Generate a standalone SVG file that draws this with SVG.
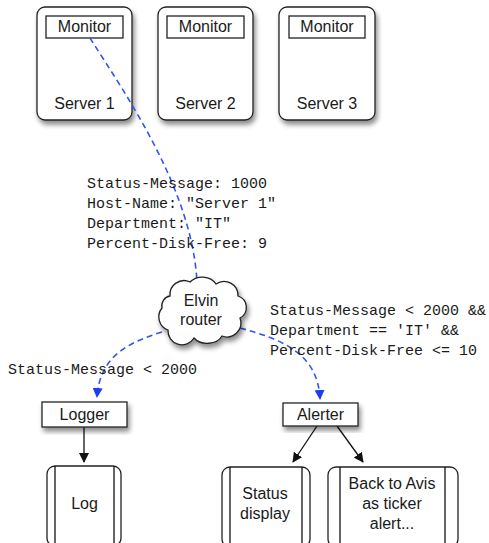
<svg xmlns="http://www.w3.org/2000/svg" width="489" height="543" viewBox="0 0 489 543">
<style>
.box{fill:#fff;stroke:#222;stroke-width:1.3}
.lbl{font-family:"Liberation Sans",Arial,sans-serif;font-size:16px;fill:#1a1a1a;text-anchor:middle}
.mono{font-family:"Liberation Mono","Courier New",monospace;font-size:15px;fill:#1a1a1a}
.dash{fill:none;stroke:#3355ee;stroke-width:1.6;stroke-dasharray:6 4}
.solid{fill:none;stroke:#111;stroke-width:1.3}
</style>
<defs>
<filter id="sh" x="-20%" y="-20%" width="150%" height="150%">
<feDropShadow dx="2" dy="4" stdDeviation="2.5" flood-color="#000" flood-opacity="0.45"/>
</filter>
<marker id="ab" viewBox="0 0 10 10" refX="9" refY="5" markerWidth="10" markerHeight="10" markerUnits="userSpaceOnUse" orient="auto">
<path d="M0,0 L10,5 L0,10 z" fill="#1d3df5"/>
</marker>
<marker id="ak" viewBox="0 0 10 10" refX="9" refY="5" markerWidth="10" markerHeight="10" markerUnits="userSpaceOnUse" orient="auto">
<path d="M0,0 L10,5 L0,10 z" fill="#111"/>
</marker>
</defs>

<g id="server1">
<rect class="box" x="37" y="7" width="95" height="113" rx="8" filter="url(#sh)"/>
<rect class="box" x="46" y="16" width="77" height="22"/>
<text class="lbl" x="84.5" y="32">Monitor</text>
<text class="lbl" x="84.5" y="109">Server 1</text>
</g>
<g id="server2">
<rect class="box" x="158" y="7" width="95" height="113" rx="8" filter="url(#sh)"/>
<rect class="box" x="167" y="16" width="77" height="22"/>
<text class="lbl" x="205.5" y="32">Monitor</text>
<text class="lbl" x="205.5" y="109">Server 2</text>
</g>
<g id="server3">
<rect class="box" x="279" y="7" width="96" height="113" rx="8" filter="url(#sh)"/>
<rect class="box" x="289" y="16" width="76" height="22"/>
<text class="lbl" x="327" y="32">Monitor</text>
<text class="lbl" x="327" y="109">Server 3</text>
</g>

<g id="connectors">
<path class="dash" d="M90,38 C128,98 192,190 197,282"/>
<path class="dash" d="M162,332 C130,342 100,355 97,397" marker-end="url(#ab)"/>
<path class="dash" d="M240,328 C285,340 318,355 320,399" marker-end="url(#ab)"/>
<path class="solid" d="M84,427 L84,462" marker-end="url(#ak)"/>
<path class="solid" d="M317,426 L293,462" marker-end="url(#ak)"/>
<path class="solid" d="M337,426 L363,462" marker-end="url(#ak)"/>
</g>

<g id="message">
<text class="mono" x="87" y="188">Status-Message: 1000</text>
<text class="mono" x="87" y="208">Host-Name: "Server 1"</text>
<text class="mono" x="87" y="228">Department: "IT"</text>
<text class="mono" x="87" y="248">Percent-Disk-Free: 9</text>
</g>

<g id="router">
<path class="box" filter="url(#sh)" d="M170,296 a14,14 0 0 1 20,-14 a16,14 0 0 1 26,2 a14,14 0 0 1 22,12 a12,12 0 0 1 2,22 a14,14 0 0 1 -18,18 a16,12 0 0 1 -28,2 a14,14 0 0 1 -26,-8 a14,14 0 0 1 -6,-22 a10,10 0 0 1 8,-12 z"/>
<text class="lbl" x="201" y="306">Elvin</text>
<text class="lbl" x="201" y="325">router</text>
</g>

<g id="filter-alerter">
<text class="mono" x="270" y="315">Status-Message &lt; 2000 &amp;&amp;</text>
<text class="mono" x="270" y="335">Department == 'IT' &amp;&amp;</text>
<text class="mono" x="270" y="355">Percent-Disk-Free &lt;= 10</text>
</g>
<g id="filter-logger">
<text class="mono" x="8" y="374">Status-Message &lt; 2000</text>
</g>

<g id="logger">
<rect class="box" x="42" y="402" width="85" height="25" filter="url(#sh)"/>
<text class="lbl" x="84.5" y="420">Logger</text>
</g>
<g id="alerter">
<rect class="box" x="283" y="403" width="75" height="23" filter="url(#sh)"/>
<text class="lbl" x="320.5" y="420">Alerter</text>
</g>

<g id="log">
<rect class="box" x="47" y="466" width="74" height="80" rx="8"/>
<line class="solid" x1="55" y1="466" x2="55" y2="546"/>
<line class="solid" x1="114" y1="466" x2="114" y2="546"/>
<text class="lbl" x="84.5" y="509">Log</text>
</g>
<g id="status">
<rect class="box" x="222" y="467" width="88" height="80" rx="8"/>
<line class="solid" x1="230" y1="467" x2="230" y2="547"/>
<line class="solid" x1="302" y1="467" x2="302" y2="547"/>
<text class="lbl" x="265" y="499">Status</text>
<text class="lbl" x="265" y="519">display</text>
</g>
<g id="ticker">
<rect class="box" x="328" y="467" width="130" height="80" rx="8"/>
<line class="solid" x1="340" y1="467" x2="340" y2="547"/>
<line class="solid" x1="445" y1="467" x2="445" y2="547"/>
<text class="lbl" x="392" y="489">Back to Avis</text>
<text class="lbl" x="392" y="509">as ticker</text>
<text class="lbl" x="392" y="529">alert...</text>
</g>
</svg>
